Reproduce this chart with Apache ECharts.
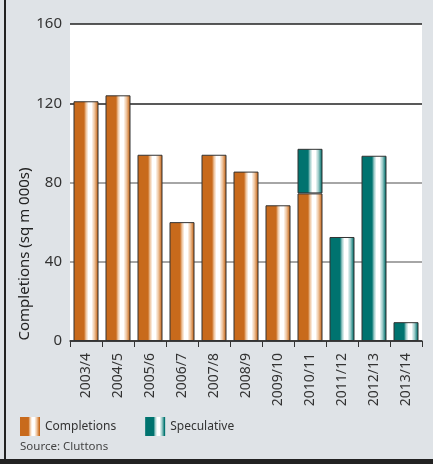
<!DOCTYPE html>
<html><head><meta charset="utf-8">
<script src="https://cdn.jsdelivr.net/npm/echarts@6/dist/echarts.min.js"></script>
<style>html,body{margin:0;padding:0;background:#dfe3e7}#c{width:433px;height:464px}</style>
</head><body><div id="c"></div>
<script>
const categories = ['2003/4','2004/5','2005/6','2006/7','2007/8','2008/9','2009/10','2010/11','2011/12','2012/13','2013/14'];
const completions = [121,124,94,60,94,85.5,68.5,74.5,null,null,null];
const speculative = [null,null,null,null,null,null,null,22.5,52.5,93.5,9.5];
const yTicks = [0,40,80,120,160];
const legendNames = ['Completions','Speculative'];

function grad(base, light){
  return new echarts.graphic.LinearGradient(0,0,1,0,[
    {offset:0,color:base},{offset:0.42,color:base},{offset:0.5,color:light},
    {offset:0.6,color:'#ffffff'},{offset:0.72,color:'#ffffff'},{offset:0.84,color:light},{offset:0.97,color:base},{offset:1,color:base}
  ]);
}
const orange = grad('#c86a1c','#eec39c');
const teal = grad('#00736f','#9ccbc9');
const font = '"Noto Sans", sans-serif';
const chart = echarts.init(document.getElementById('c'));
chart.setOption({
  backgroundColor:'#dfe3e7',
  animation:false,
  textStyle:{fontFamily:font},
  grid:{left:70,right:11,top:24,bottom:123,show:true,backgroundColor:'#ffffff',borderWidth:0},
  legend:{show:true,left:15,top:412,itemWidth:20,itemHeight:19,itemGap:29,icon:'rect',
    itemStyle:{borderWidth:0},
    textStyle:{fontSize:12,color:'#333',fontFamily:font},data:legendNames},
  xAxis:{type:'category',data:categories,
    axisLine:{lineStyle:{color:'#333',width:1.5}},
    axisTick:{show:true,length:6,lineStyle:{color:'#333'}},
    axisLabel:{rotate:90,margin:12,fontSize:14,color:'#333',fontFamily:font}},
  yAxis:{type:'value',min:yTicks[0],max:yTicks[yTicks.length-1],interval:40,
    axisLine:{show:false},axisTick:{show:false},
    axisLabel:{fontSize:15,color:'#333',margin:8,fontFamily:font},
    splitLine:{lineStyle:{color:['#333','#888','#888','#222','#222'],width:1.5}}},
  graphic:[
    {type:'rect',shape:{x:4,y:0,width:2,height:464},style:{fill:'#222'},silent:true},
    {type:'rect',shape:{x:0,y:459,width:433,height:5},style:{fill:'#222'},silent:true},
    {type:'text',x:25,y:254,rotation:Math.PI/2,style:{text:'Completions (sq m 000s)',font:'15px "Noto Sans"',fill:'#222',textAlign:'center',textVerticalAlign:'middle'}},
    {type:'text',x:20,y:447,style:{text:'Source: Cluttons',font:'11.5px "Noto Sans"',fill:'#444',textVerticalAlign:'middle'}}
  ],
  series:[
    {name:legendNames[0],type:'bar',stack:'a',data:completions,barWidth:25,
      itemStyle:{color:orange,borderColor:'#333',borderWidth:1}},
    {name:legendNames[1],type:'bar',stack:'a',data:speculative,barWidth:25,
      itemStyle:{color:teal,borderColor:'#333',borderWidth:1}}
  ]
});
</script></body></html>
